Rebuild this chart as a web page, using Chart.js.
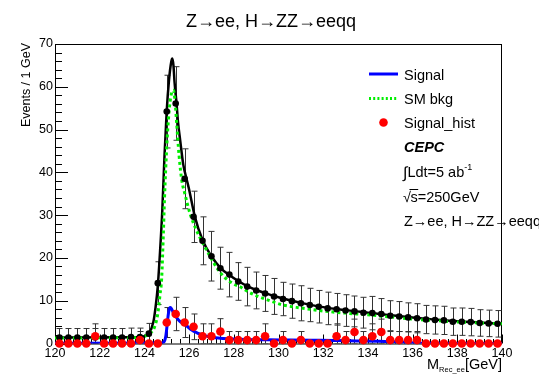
<!DOCTYPE html>
<html><head><meta charset="utf-8">
<script src="https://cdn.jsdelivr.net/npm/chart.js@4.4.1/dist/chart.umd.min.js"></script>
<style>html,body{margin:0;padding:0;background:#fff;}#wrap{width:539px;height:375px;}</style>
</head><body><div id="wrap"><canvas id="c" width="539" height="375"></canvas></div>
<script>
// ---------- data ----------
const binCenters = [120.2,120.6,121.0,121.4,121.8,122.2,122.6,123.0,123.4,123.8,
  124.2,124.6,125.0,125.4,125.8,126.2,126.6,127.0,127.4,127.8,
  128.2,128.6,129.0,129.4,129.8,130.2,130.6,131.0,131.4,131.8,
  132.2,132.6,133.0,133.4,133.8,134.2,134.6,135.0,135.4,135.8,
  136.2,136.6,137.0,137.4,137.8,138.2,138.6,139.0,139.4,139.8];
const dataTotal = [1.4,1.4,1.4,1.4,1.4,1.4,1.4,1.4,1.5,1.5,
  2.3,14.1,54.2,56.1,38.5,29.6,24.0,20.4,17.6,16.1,
  14.5,13.3,12.4,11.7,11.0,10.4,9.9,9.4,9.0,8.6,
  8.2,8.0,7.7,7.5,7.2,7.1,6.9,6.5,6.3,6.1,
  5.9,5.6,5.5,5.4,5.1,5.1,5.0,4.8,4.7,4.6];
const dataTotalErr = [2.1,2.1,2.1,2.1,2.1,2.1,2.1,2.1,2.1,2.1,
  2.4,5.0,8.5,8.6,7.0,6.0,5.6,5.8,4.9,5.2,
  4.4,4.5,4.3,4.2,4.2,3.9,4.0,4.1,3.9,3.8,
  3.8,3.7,3.7,3.6,3.6,3.9,3.6,3.5,3.5,3.4,
  3.4,3.3,3.3,3.3,3.2,3.2,3.2,3.1,3.1,3.1];
const signalHist = [0,0,0,0,1.7,0,0,0,0,0.8,
  0,0,4.9,6.9,4.9,3.9,1.7,1.7,2.8,0.8,
  0.8,0.8,0.8,1.7,0,0.8,0,0.8,0,0,
  0,1.7,0.8,2.7,0.8,1.7,2.7,0.8,0.8,0.8,
  0.8,0,0,0,0,0,0,0,0,0];
const signalHistErr = [0,0,0,0,2.9,0,0,0,0,2.0,
  0,0,3.5,3.9,3.5,3.0,2.9,2.9,3.0,2.0,
  2.0,2.0,2.0,2.9,0,2.0,0,2.0,0,0,
  0,2.9,2.0,3.0,2.0,2.9,3.0,2.0,2.0,2.0,
  2.0,0,0,0,0,0,0,0,0,0];
// fitted curves (sampled by eye)
const totalFitX = [120,123.5,124.0,124.2,124.4,124.5,124.6,124.7,124.8,124.9,125.0,125.1,125.2,125.25,125.3,125.35,125.44,125.5,125.6,125.74,125.89,126.0,126.26,126.6,127.0,127.4,127.8,128.2,128.6,129.0,129.5,130.0,130.5,131.0,132.0,133.0,134.0,135.0,136.0,137.0,138.0,139.0,140.0];
const totalFitY = [1.4,1.45,1.7,2.3,5.0,8.5,13.5,21.5,31,44,54.5,61.5,65.8,66.6,65,61,56,52,47.5,41.8,38.4,36.0,29.6,24.2,20.4,17.7,16.0,14.6,13.4,12.5,11.6,10.8,10.1,9.5,8.5,7.8,7.2,6.6,6.1,5.6,5.2,4.9,4.6];
const bkgFitX = [120,123.0,123.8,124.1,124.3,124.45,124.6,124.7,124.77,124.85,124.9,125.0,125.1,125.2,125.3,125.38,125.45,125.55,125.67,125.8,126.04,126.3,126.56,127.0,127.25,127.6,128.0,128.3,128.6,129.0,129.5,130.2,131.0,132.0,133.0,134.0,135.0,136.0,137.0,138.0,139.0,140.0];
const bkgFitY = [1.3,1.35,1.5,1.9,2.6,3.8,7,11.5,15,26,34,46,54,58.2,59.2,56,51,44,38.2,35.2,30.4,26.8,24.0,19.8,17.6,15.4,13.9,13.2,12.2,11.2,10.2,9.0,8.3,7.6,7.1,6.7,6.2,5.7,5.35,5.05,4.8,4.6];
const sigFitX = [120,124.8,124.9,124.95,125.0,125.05,125.1,125.15,125.2,125.3,125.45,125.6,125.9,126.1,126.35,126.6,126.9,127.3,127.8,128.5,129.5,130.5,131.5,132.5,133.5,134.5,135.3,135.8,136.2,137.0,140.0];
const sigFitY = [0.05,0.1,0.6,1.5,3.5,6.0,7.8,8.4,8.2,7.2,6.0,5.1,4.1,3.2,2.5,2.0,1.6,1.3,1.1,0.95,0.85,0.8,0.75,0.7,0.6,0.5,0.4,0.25,0.08,0.03,0.02];
const xTicks = [120,122,124,126,128,130,132,134,136,138,140];
const yTicks = [0,10,20,30,40,50,60,70];
const titleText = 'Z\u2192ee, H\u2192ZZ\u2192eeqq';
const yTitle = 'Events / 1 GeV';
const legendLabels = ['Signal','SM bkg','Signal_hist'];

// ---------- chart ----------
const FONT = '"Liberation Sans", Arial, Helvetica, sans-serif';
const xy = (xs, ys) => xs.map((x, i) => ({x: x, y: ys[i]}));

const rootPlugin = {
  id: 'rootStyle',
  beforeDatasetsDraw(chart) {
    const ctx = chart.ctx, a = chart.chartArea, xs = chart.scales.x, ys = chart.scales.y;
    ctx.save();
    // frame
    ctx.strokeStyle = '#000'; ctx.lineWidth = 1;
    ctx.strokeRect(a.left + 0.5, a.top + 0.5, a.right - a.left - 1, a.bottom - a.top);
    // ticks (inward, ROOT style)
    ctx.beginPath();
    for (let v = 0; v <= 70.001; v += 2) {
      const y = Math.round(ys.getPixelForValue(v)) + 0.5;
      const len = (Math.abs(v % 10) < 1e-6) ? 13 : 7;
      ctx.moveTo(a.left, y); ctx.lineTo(a.left + len, y);
    }
    for (let i = 0; i <= 50; i++) {
      const v = 120 + i * 0.4;
      const x = Math.round(xs.getPixelForValue(v)) + 0.5;
      const len = (i % 5 === 0) ? 9 : 4.5;
      ctx.moveTo(x, a.bottom); ctx.lineTo(x, a.bottom - len);
    }
    ctx.stroke();
    // error bars
    ctx.beginPath();
    ctx.rect(a.left, a.top, a.right - a.left, a.bottom - a.top);
    ctx.clip();
    const drawErr = (vals, errs, col) => {
      ctx.strokeStyle = col; ctx.lineWidth = 1;
      ctx.beginPath();
      binCenters.forEach((c, i) => {
        if (!errs[i]) return;
        const x = Math.round(xs.getPixelForValue(c)) + 0.5;
        const y1 = ys.getPixelForValue(vals[i] + errs[i]);
        const y2 = ys.getPixelForValue(Math.max(vals[i] - errs[i], 0));
        ctx.moveTo(x, y1); ctx.lineTo(x, y2);
        ctx.moveTo(x - 3, y1); ctx.lineTo(x + 3, y1);
        ctx.moveTo(x - 3, y2); ctx.lineTo(x + 3, y2);
      });
      ctx.stroke();
    };
    drawErr(dataTotal, dataTotalErr, '#333');
    drawErr(signalHist, signalHistErr, '#333');
    ctx.restore();
  },
  afterDraw(chart) {
    const ctx = chart.ctx;
    ctx.save();
    ctx.fillStyle = '#000';
    // title
    ctx.font = '18px ' + FONT; ctx.textAlign = 'center'; ctx.textBaseline = 'alphabetic';
    ctx.fillText(titleText, 271, 26.5);
    // y title
    ctx.save();
    ctx.translate(30, 43); ctx.rotate(-Math.PI / 2);
    ctx.font = '12.5px ' + FONT; ctx.textAlign = 'right';
    ctx.fillText(yTitle, 0, 0);
    ctx.restore();
    // x title  M_{Rec_ee}[GeV]
    ctx.textAlign = 'left';
    const fBig = '14.5px ' + FONT, fSub = '7.5px ' + FONT;
    ctx.font = fBig; const wM = ctx.measureText('M').width, wG = ctx.measureText('[GeV]').width;
    ctx.font = fSub; const wS = ctx.measureText('Rec_ee').width;
    let x0 = 502 - wM - wS - wG;
    ctx.font = fBig; ctx.fillText('M', x0, 369);
    ctx.font = fSub; ctx.fillText('Rec_ee', x0 + wM, 372);
    ctx.font = fBig; ctx.fillText('[GeV]', x0 + wM + wS, 369);
    // legend
    const lx = 404;
    ctx.lineWidth = 3;
    ctx.strokeStyle = '#0000ff';
    ctx.beginPath(); ctx.moveTo(369, 74); ctx.lineTo(398, 74); ctx.stroke();
    ctx.strokeStyle = '#00ee00'; ctx.setLineDash([2, 2.2]);
    ctx.beginPath(); ctx.moveTo(369, 98.5); ctx.lineTo(398, 98.5); ctx.stroke();
    ctx.setLineDash([]);
    ctx.fillStyle = '#ff0000';
    ctx.beginPath(); ctx.arc(383.5, 122.5, 4.3, 0, Math.PI * 2); ctx.fill();
    ctx.fillStyle = '#000';
    ctx.font = fBig;
    ctx.fillText(legendLabels[0], lx, 79.5);
    ctx.fillText(legendLabels[1], lx, 104);
    ctx.fillText(legendLabels[2], lx, 128);
    ctx.font = 'italic bold 14.5px ' + FONT;
    ctx.fillText('CEPC', lx, 152.3);
    // integral luminosity
    ctx.font = '16px ' + FONT;
    ctx.fillText('\u222B', lx - 1, 177.5);
    let w = ctx.measureText('\u222B').width - 1;
    ctx.font = fBig; ctx.fillText('Ldt=5 ab', lx + w, 176.7);
    w += ctx.measureText('Ldt=5 ab').width;
    ctx.font = '9px ' + FONT; ctx.fillText('-1', lx + w, 169.5);
    // sqrt(s)
    ctx.font = fBig;
    ctx.fillText('\u221A', lx - 1, 201.7);
    let ws = ctx.measureText('\u221A').width - 1.5;
    ctx.fillText('s=250GeV', lx + ws, 201.7);
    const wsS = ctx.measureText('s').width;
    ctx.lineWidth = 1; ctx.strokeStyle = '#000';
    ctx.beginPath(); ctx.moveTo(lx + ws - 1, 189.5); ctx.lineTo(lx + ws + wsS + 0.5, 189.5); ctx.stroke();
    ctx.fillText(titleText, lx, 226);
    ctx.restore();
  }
};

new Chart(document.getElementById('c'), {
  type: 'line',
  data: {
    datasets: [
      { label: legendLabels[2], data: xy(binCenters, signalHist), showLine: false,
        pointRadius: 4.3, pointBackgroundColor: '#ff0000', pointBorderWidth: 0, borderColor: '#ff0000', clip: false },
      { label: legendLabels[0], data: xy(sigFitX, sigFitY), borderColor: '#0000ff', borderWidth: 3,
        pointRadius: 0, cubicInterpolationMode: 'monotone', fill: false },
      { label: 'Data', data: xy(binCenters, dataTotal), showLine: false,
        pointRadius: 3.3, pointBackgroundColor: '#000', pointBorderWidth: 0, borderColor: '#000', clip: false },
      { label: legendLabels[1], data: xy(bkgFitX, bkgFitY), borderColor: '#00ee00', borderWidth: 3,
        borderDash: [3, 3], pointRadius: 0, cubicInterpolationMode: 'monotone', fill: false },
      { label: 'Total', data: xy(totalFitX, totalFitY), borderColor: '#000', borderWidth: 2.5,
        pointRadius: 0, cubicInterpolationMode: 'monotone', fill: false }
    ]
  },
  options: {
    responsive: false, animation: false, devicePixelRatio: 1,
    layout: { padding: { left: 0, right: 37, top: 44, bottom: 0 } },
    plugins: { legend: { display: false }, tooltip: { enabled: false }, title: { display: false } },
    scales: {
      x: { type: 'linear', min: 120, max: 140,
        afterBuildTicks: s => { s.ticks = xTicks.map(v => ({value: v})); },
        afterFit: s => { s.height = 31.5; },
        grid: { display: false, drawTicks: false }, border: { display: false },
        ticks: { font: { family: FONT, size: 12.5 }, color: '#000', padding: 3, maxRotation: 0, autoSkip: false } },
      y: { type: 'linear', min: 0, max: 70,
        afterBuildTicks: s => { s.ticks = yTicks.map(v => ({value: v})); },
        afterFit: s => { s.width = 55; },
        grid: { display: false, drawTicks: false }, border: { display: false },
        ticks: { font: { family: FONT, size: 12.5 }, color: '#000', padding: 2, autoSkip: false } }
    }
  },
  plugins: [rootPlugin]
});
</script>
</body></html>
